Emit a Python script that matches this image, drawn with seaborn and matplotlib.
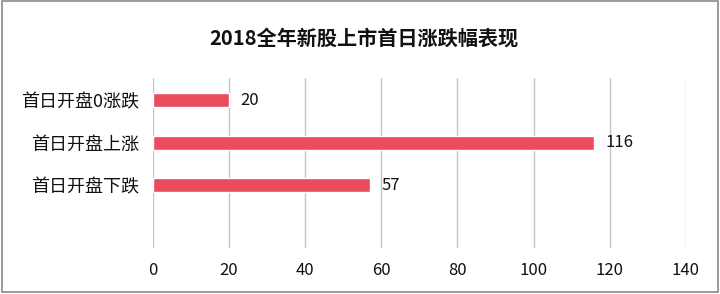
import matplotlib
matplotlib.use("Agg")
import matplotlib.pyplot as plt
import seaborn as sns
import pandas as pd
from matplotlib.patches import Rectangle

# 数据
categories = ['首日开盘0涨跌', '首日开盘上涨', '首日开盘下跌']
counts = [20, 116, 57]
x_ticks = [0, 20, 40, 60, 80, 100, 120, 140]

df = pd.DataFrame({'类别': categories, '数量': counts})

sns.set_theme(style='white')
plt.rcParams['font.family'] = ['Noto Sans CJK SC', 'DejaVu Sans']

fig = plt.figure(figsize=(7.2, 2.94), dpi=100)
ax = fig.add_axes([0.2125, 0.156, 0.740, 0.579])

sns.barplot(data=df, x='数量', y='类别', color='#e94d5c', saturation=1,
            width=0.33, ax=ax, zorder=3)

# 数值标签
for i, v in enumerate(counts):
    ax.text(v + 3, i, str(v), va='center', ha='left', fontsize=12, color='#111111')

ax.set_xlim(0, 140)
ax.set_ylim(3.48, -0.52)
ax.set_xticks(x_ticks)
ax.set_xticklabels([str(t) for t in x_ticks])
ax.grid(axis='x', color='#c4c4c4', linewidth=1, zorder=0)
for s in ax.spines.values():
    s.set_visible(False)
ax.tick_params(axis='x', length=0, pad=10, labelsize=12, labelcolor='#111111')
ax.tick_params(axis='y', length=0, pad=10, labelsize=13, labelcolor='#111111')
ax.set_xlabel('')
ax.set_ylabel('')

fig.text(0.505, 0.87, '2018全年新股上市首日涨跌幅表现', ha='center', va='center',
         fontsize=14.5, fontweight='bold', color='#111111')

# 外框
fig.patches.append(Rectangle((0.003, 0.006), 0.994, 0.99, transform=fig.transFigure,
                             fill=False, edgecolor='#8a8a8a', linewidth=1.2))

fig.savefig('out.png', dpi=100)
